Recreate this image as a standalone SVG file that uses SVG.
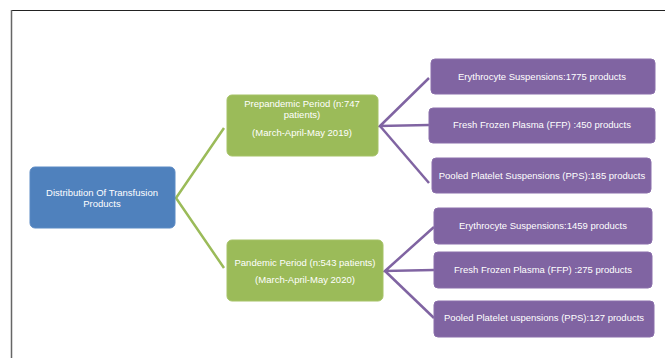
<svg xmlns="http://www.w3.org/2000/svg" width="670" height="358" viewBox="0 0 670 358">
<style>
.t{font-family:"Liberation Sans",Arial,sans-serif;font-size:9.5px;fill:#ffffff;text-anchor:middle}
.b{fill:#4F81BD;stroke:#5b8ac4;stroke-width:1}
.g{fill:#9BBB59;stroke:#a5c266;stroke-width:1}
.p{fill:#8064A2;stroke:#8a6fab;stroke-width:1}
.cg{stroke:#9BBB59;stroke-width:2.5;fill:none}
.cp{stroke:#8064A2;stroke-width:2.5;fill:none}
</style>
<rect width="670" height="358" fill="#ffffff"/>
<g id="frame">
<line x1="11" y1="10.5" x2="665" y2="10.5" stroke="#222" stroke-width="1.2"/>
<line x1="11.5" y1="10" x2="11.5" y2="358" stroke="#666" stroke-width="1.5"/>
</g>
<g id="connectors">
<polyline class="cg" points="224,128 176,198 224,268"/>
<polyline class="cp" points="429,78 380,126 429,125"/>
<line class="cp" x1="380" y1="126" x2="429" y2="183"/>
<polyline class="cp" points="434,227 385,271 434,270"/>
<line class="cp" x1="385" y1="271" x2="434" y2="318"/>
</g>
<g id="root">
<rect class="b" x="30" y="167" width="145" height="61" rx="5"/>
<text class="t" x="102" y="196">Distribution Of Transfusion</text>
<text class="t" x="102" y="207">Products</text>
</g>
<g id="prepandemic">
<rect class="g" x="227" y="95" width="151" height="61" rx="5"/>
<text class="t" x="302" y="107">Prepandemic Period (n:747</text>
<text class="t" x="302" y="118">patients)</text>
<text class="t" x="302" y="136">(March-April-May 2019)</text>
</g>
<g id="pandemic">
<rect class="g" x="227" y="240" width="156" height="61" rx="5"/>
<text class="t" x="305" y="266">Pandemic Period (n:543 patients)</text>
<text class="t" x="305" y="283">(March-April-May 2020)</text>
</g>
<g id="pre-es">
<rect class="p" x="431" y="59" width="224" height="35" rx="4"/>
<text class="t" x="542" y="80">Erythrocyte Suspensions:1775 products</text>
</g>
<g id="pre-ffp">
<rect class="p" x="429" y="108" width="226" height="35" rx="4"/>
<text class="t" x="542" y="128">Fresh Frozen Plasma (FFP) :450 products</text>
</g>
<g id="pre-pps">
<rect class="p" x="432" y="158" width="219" height="35" rx="4"/>
<text class="t" x="542" y="179">Pooled Platelet Suspensions (PPS):185 products</text>
</g>
<g id="pan-es">
<rect class="p" x="434" y="208" width="218" height="36" rx="4"/>
<text class="t" x="543" y="229">Erythrocyte Suspensions:1459 products</text>
</g>
<g id="pan-ffp">
<rect class="p" x="434" y="252" width="218" height="36" rx="4"/>
<text class="t" x="543" y="273">Fresh Frozen Plasma (FFP) :275 products</text>
</g>
<g id="pan-pps">
<rect class="p" x="434" y="301" width="220" height="36" rx="4"/>
<text class="t" x="544" y="321">Pooled Platelet uspensions (PPS):127 products</text>
</g>
</svg>
